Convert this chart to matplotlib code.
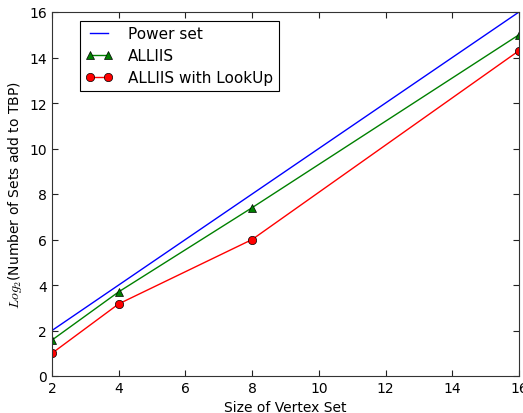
import matplotlib
matplotlib.use("Agg")
import matplotlib.pyplot as plt

sizes = [2, 4, 8, 16]
power_set = [2, 4, 8, 16]
alliis = [1.58, 3.7, 7.4, 15.0]
alliis_lookup = [1.0, 3.17, 6.0, 14.3]

plt.rcParams['mathtext.fontset'] = 'cm'
plt.rcParams['xtick.direction'] = 'in'
plt.rcParams['ytick.direction'] = 'in'
plt.rcParams['xtick.top'] = True
plt.rcParams['ytick.right'] = True

fig = plt.figure(figsize=(5.23, 4.14), dpi=100)
ax = fig.add_axes([52/523, 37/414, 467/523, 364/414])

ax.plot(sizes, power_set, color='blue', lw=1, label='Power set')
ax.plot(sizes, alliis, color='green', lw=1, marker='^', ms=6,
        mfc='green', mec='black', mew=0.5, label='ALLIIS')
ax.plot(sizes, alliis_lookup, color='red', lw=1, marker='o', ms=6,
        mfc='red', mec='black', mew=0.5, label='ALLIIS with LookUp')

ax.set_xlim(2, 16)
ax.set_ylim(0, 16)
ax.set_xticks([2, 4, 6, 8, 10, 12, 14, 16])
ax.set_yticks([0, 2, 4, 6, 8, 10, 12, 14, 16])
ax.tick_params(labelsize=10, length=4, width=0.8, colors='#222222', labelcolor='black')
for s in ax.spines.values():
    s.set_color('#333333')
ax.set_xlabel('Size of Vertex Set', fontsize=10)
ax.set_ylabel(r'$Log_2$(Number of Sets add to TBP)', fontsize=10)

leg = ax.legend(loc='upper left', bbox_to_anchor=(0.06, 0.975), numpoints=2,
                fontsize=11, fancybox=False, framealpha=1, edgecolor='black',
                handlelength=1.8, handletextpad=1.0, borderpad=0.35,
                labelspacing=0.45, borderaxespad=0)
leg.get_frame().set_linewidth(0.8)

fig.savefig('out.png', dpi=100)
